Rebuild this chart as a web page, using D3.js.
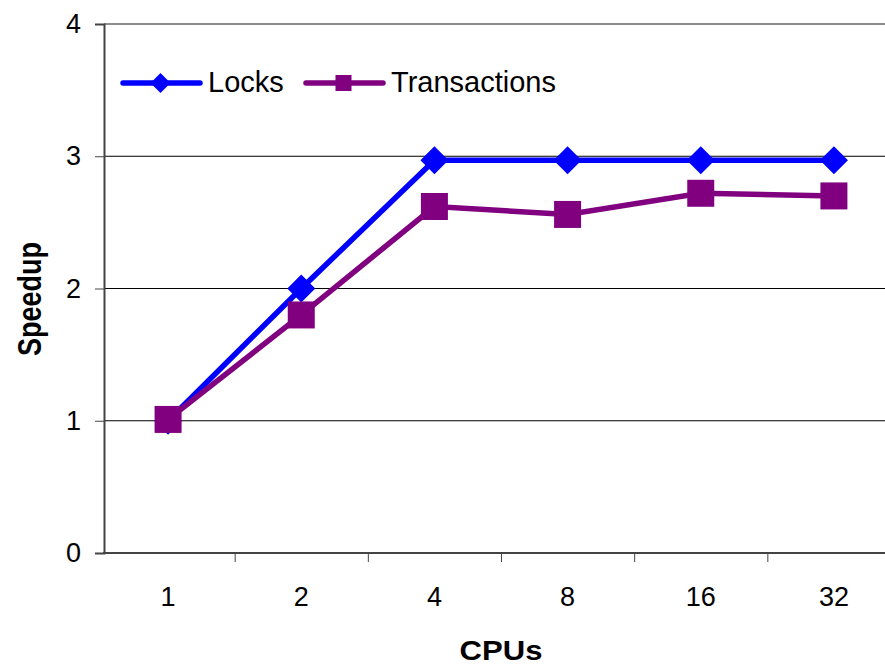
<!DOCTYPE html>
<html>
<head>
<meta charset="utf-8">
<script src="https://cdn.jsdelivr.net/npm/d3@7"></script>
<style>
  body { margin: 0; background: #fff; }
  svg { display: block; font-family: "Liberation Sans", Arial, sans-serif; }
</style>
</head>
<body>
<div id="chart"></div>
<script>
// chart data
const cpus = ['1', '2', '4', '8', '16', '32'];
const locks = [1.0, 2.0, 2.97, 2.97, 2.97, 2.97];
const transactions = [1.01, 1.8, 2.62, 2.56, 2.72, 2.70];
const yTicks = [0, 1, 2, 3, 4];

const width = 885;
const height = 667;
const colors = {
    locks: '#0000FF',
    trans: '#800080'
};

const svg = d3.select('#chart')
    .append('svg')
    .attr('width', width)
    .attr('height', height);

// scales
const x = d3.scaleBand()
    .domain(cpus)
    .range([101.5, 900.5])
    .padding(0);
const xEdge = d3.scaleLinear()
    .domain([0, cpus.length])
    .range([101.5, 900.5]);
const y = d3.scaleLinear()
    .domain([0, 4])
    .range([553, 24]);
const cx = d => x(d) + x.bandwidth() / 2;

// gridlines
svg.append('g')
    .selectAll('line')
    .data(yTicks.filter(d => d > 0))
    .join('line')
    .attr('x1', 104)
    .attr('x2', width)
    .attr('y1', d => y(d))
    .attr('y2', d => y(d))
    .attr('stroke', d => d === 4 ? '#8c8c8c' : '#000')
    .attr('stroke-width', d => d === 4 ? 2 : 1);

// y axis
const yAxis = svg.append('g')
    .attr('transform', 'translate(104,0)')
    .call(d3.axisLeft(y).tickValues(yTicks).tickSize(9).tickPadding(14).tickFormat(d3.format('d')));
yAxis.select('.domain').attr('stroke', '#444').attr('stroke-width', 2);
yAxis.selectAll('.tick line').attr('stroke', '#444');
yAxis.selectAll('text')
    .attr('fill', '#000')
    .style('font-size', '27px');

// x axis: tick marks at category boundaries, labels at category centres
const xTickAxis = svg.append('g')
    .attr('transform', `translate(0,${y(0)})`)
    .call(d3.axisBottom(xEdge).tickValues(d3.range(1, cpus.length)).tickSize(9).tickFormat(''));
xTickAxis.select('.domain').remove();
xTickAxis.selectAll('.tick line').attr('stroke', '#444');

svg.append('line')
    .attr('x1', 103)
    .attr('x2', width)
    .attr('y1', y(0))
    .attr('y2', y(0))
    .attr('stroke', '#444')
    .attr('stroke-width', 2);

const xAxis = svg.append('g')
    .attr('transform', `translate(0,${y(0)})`)
    .call(d3.axisBottom(x).tickSize(0).tickPadding(34));
xAxis.select('.domain').remove();
xAxis.selectAll('text')
    .attr('fill', '#000')
    .style('font-size', '27px');

// axis titles (the original is stretched a little horizontally)
svg.append('text')
    .attr('transform', 'translate(501,660) scale(1.15,1)')
    .attr('text-anchor', 'middle')
    .style('font-size', '27px')
    .style('font-weight', 'bold')
    .text('CPUs');

svg.append('text')
    .attr('transform', 'translate(41,299) rotate(-90) scale(1,1.25)')
    .attr('text-anchor', 'middle')
    .style('font-size', '27px')
    .style('font-weight', 'bold')
    .text('Speedup');

// series
const line = d3.line()
    .x((d, i) => cx(cpus[i]))
    .y(d => y(d));

const diamond = d3.symbol().type(d3.symbolSquare).size(392);
const square = d3.symbol().type(d3.symbolSquare).size(729);

svg.append('path')
    .datum(locks)
    .attr('d', line)
    .attr('fill', 'none')
    .attr('stroke', colors.locks)
    .attr('stroke-width', 5.5);

svg.append('g')
    .selectAll('path')
    .data(locks)
    .join('path')
    .attr('d', diamond)
    .attr('transform', (d, i) => `translate(${cx(cpus[i])},${y(d)}) rotate(45)`)
    .attr('fill', colors.locks);

svg.append('path')
    .datum(transactions)
    .attr('d', line)
    .attr('fill', 'none')
    .attr('stroke', colors.trans)
    .attr('stroke-width', 5.5);

svg.append('g')
    .selectAll('path')
    .data(transactions)
    .join('path')
    .attr('d', square)
    .attr('transform', (d, i) => `translate(${cx(cpus[i])},${y(d)})`)
    .attr('fill', colors.trans);

// legend
const legendItems = [
    { name: 'Locks', color: colors.locks, x: 123, shape: d3.symbol().type(d3.symbolSquare).size(200), rot: 45 },
    { name: 'Transactions', color: colors.trans, x: 306, shape: d3.symbol().type(d3.symbolSquare).size(256), rot: 0 }
];

const legend = svg.append('g')
    .attr('transform', 'translate(0,83)');

const item = legend.selectAll('g')
    .data(legendItems)
    .join('g')
    .attr('transform', d => `translate(${d.x},0)`);

item.append('line')
    .attr('x1', 0)
    .attr('x2', 77)
    .attr('stroke', d => d.color)
    .attr('stroke-width', 5.5)
    .attr('stroke-linecap', 'round');

item.append('path')
    .attr('d', d => d.shape())
    .attr('transform', d => `translate(37.5,0) rotate(${d.rot})`)
    .attr('fill', d => d.color);

item.append('text')
    .attr('x', 85)
    .attr('y', 9)
    .style('font-size', '29px')
    .text(d => d.name);
</script>
</body>
</html>
